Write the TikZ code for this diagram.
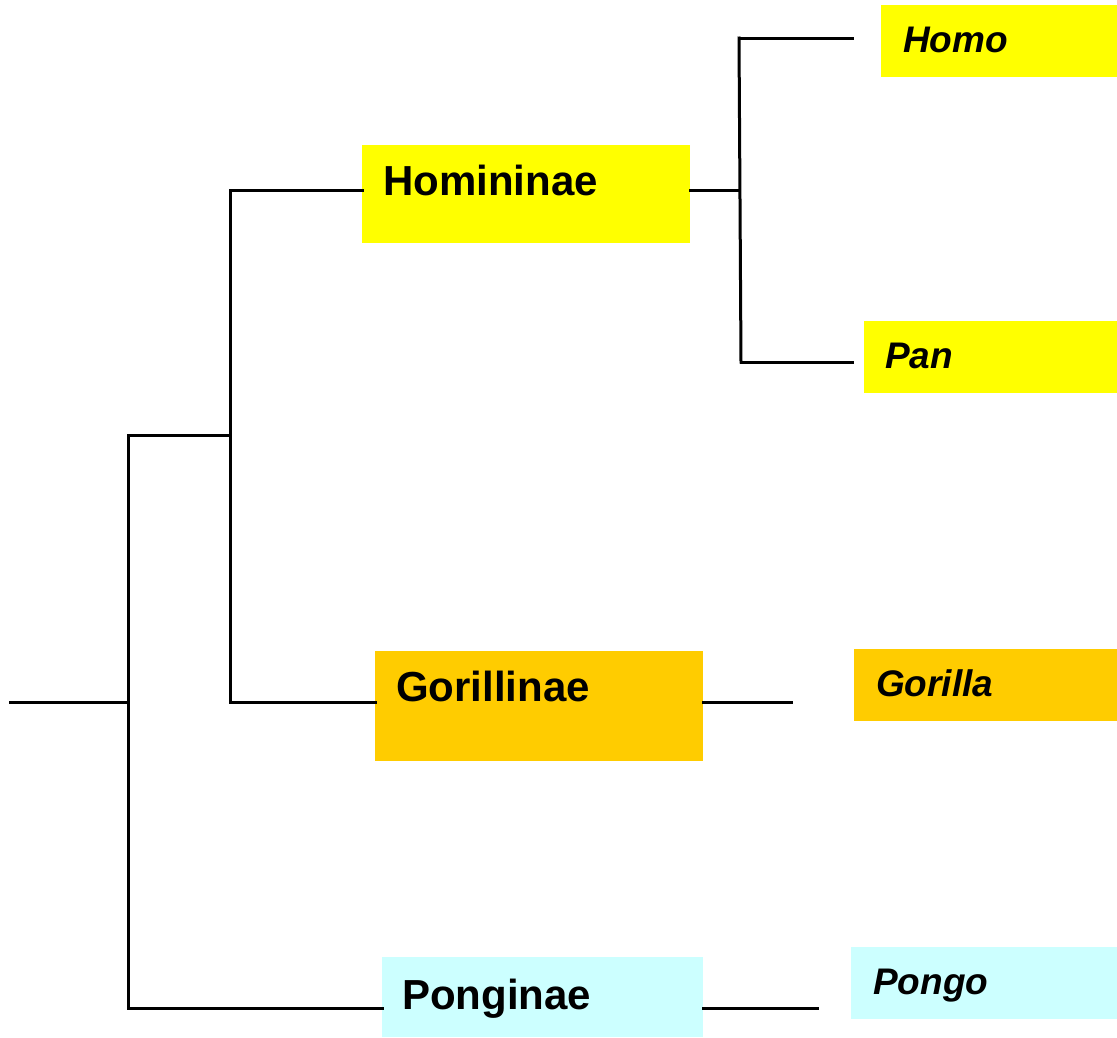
\documentclass[tikz,border=0pt]{standalone}
\usepackage{fontspec}
\setmainfont{Liberation Sans}
\definecolor{yel}{HTML}{FFFF00}
\definecolor{ora}{HTML}{FFCC00}
\definecolor{cya}{HTML}{CCFFFF}
\begin{document}
\begin{tikzpicture}[x=1pt,y=-1pt,
  box/.style={inner sep=0pt,outer sep=0pt,draw=none},
  lbl/.style={anchor=base west,inner sep=0pt,font=\fontsize{42}{50}\selectfont\bfseries},
  gen/.style={anchor=base west,inner sep=0pt,font=\fontsize{37}{44}\selectfont\bfseries\itshape},
  ln/.style={line width=3pt,line cap=rect}]
\useasboundingbox (0,0) rectangle (1117,1037);
% boxes
\fill[yel] (881,5) rectangle (1117,77);
\node[box,minimum width=236pt,minimum height=72pt] (homobox) at (999,41) {};
\fill[yel] (864,321) rectangle (1117,393);
\node[box,minimum width=253pt,minimum height=72pt] (panbox) at (990.5,357) {};
\fill[yel] (362,145) rectangle (690,243);
\node[box,minimum width=328pt,minimum height=98pt] (hombox) at (526,194) {};
\fill[ora] (375,651) rectangle (703,761);
\node[box,minimum width=328pt,minimum height=110pt] (gorbox) at (539,706) {};
\fill[ora] (854,649) rectangle (1117,721);
\node[box,minimum width=263pt,minimum height=72pt] (gorgbox) at (985.5,685) {};
\fill[cya] (382,957) rectangle (703,1037);
\node[box,minimum width=321pt,minimum height=80pt] (ponbox) at (542.5,997) {};
\fill[cya] (851,947) rectangle (1117,1019);
\node[box,minimum width=266pt,minimum height=72pt] (pongbox) at (984,983) {};
% texts
\node[gen] (homo) at (903,52) {Homo};
\node[gen] (pan) at (885,368) {Pan};
\node[lbl] (homininae) at (383,195) {Homininae};
\node[lbl] (gorillinae) at (396,701) {Gorillinae};
\node[gen] (gorilla) at (876,696) {Gorilla};
\node[lbl] (ponginae) at (402,1009) {Ponginae};
\node[gen] (pongo) at (873,994) {Pongo};
% tree coordinates
\coordinate (root) at (10.5,702);
\coordinate (n1) at (128,702);
\coordinate (n1t) at (128,435);
\coordinate (n1b) at (128,1008);
\coordinate (n2) at (230,435);
\coordinate (n2t) at (230,190);
\coordinate (n2b) at (230,702);
\coordinate (n3) at (739,190);
\coordinate (n3t) at (739,38);
\coordinate (n3b) at (741,362);
\coordinate (homoend) at (852,38);
\coordinate (panend) at (852,362);
\coordinate (gorend) at (791,702);
\coordinate (ponend) at (817,1008);
% connectors
\draw[ln] (root) -- (n1);
\draw[ln] (n1t) -- (n1b);
\draw[ln] (n1t) -- (n2);
\draw[ln] (n1b) -- (ponbox.west |- n1b);
\draw[ln] (n2t) -- (n2b);
\draw[ln] (n2t) -- (hombox.west |- n2t);
\draw[ln] (n2b) -- (gorbox.west |- n2b);
\draw[ln] (hombox.east |- n3) -- (n3);
\draw[ln] (n3t) -- (n3b);
\draw[ln] (n3t) -- (homoend);
\draw[ln] (n3b) -- (panend);
\draw[ln] (gorbox.east |- gorend) -- (gorend);
\draw[ln] (ponbox.east |- ponend) -- (ponend);
\end{tikzpicture}
\end{document}
